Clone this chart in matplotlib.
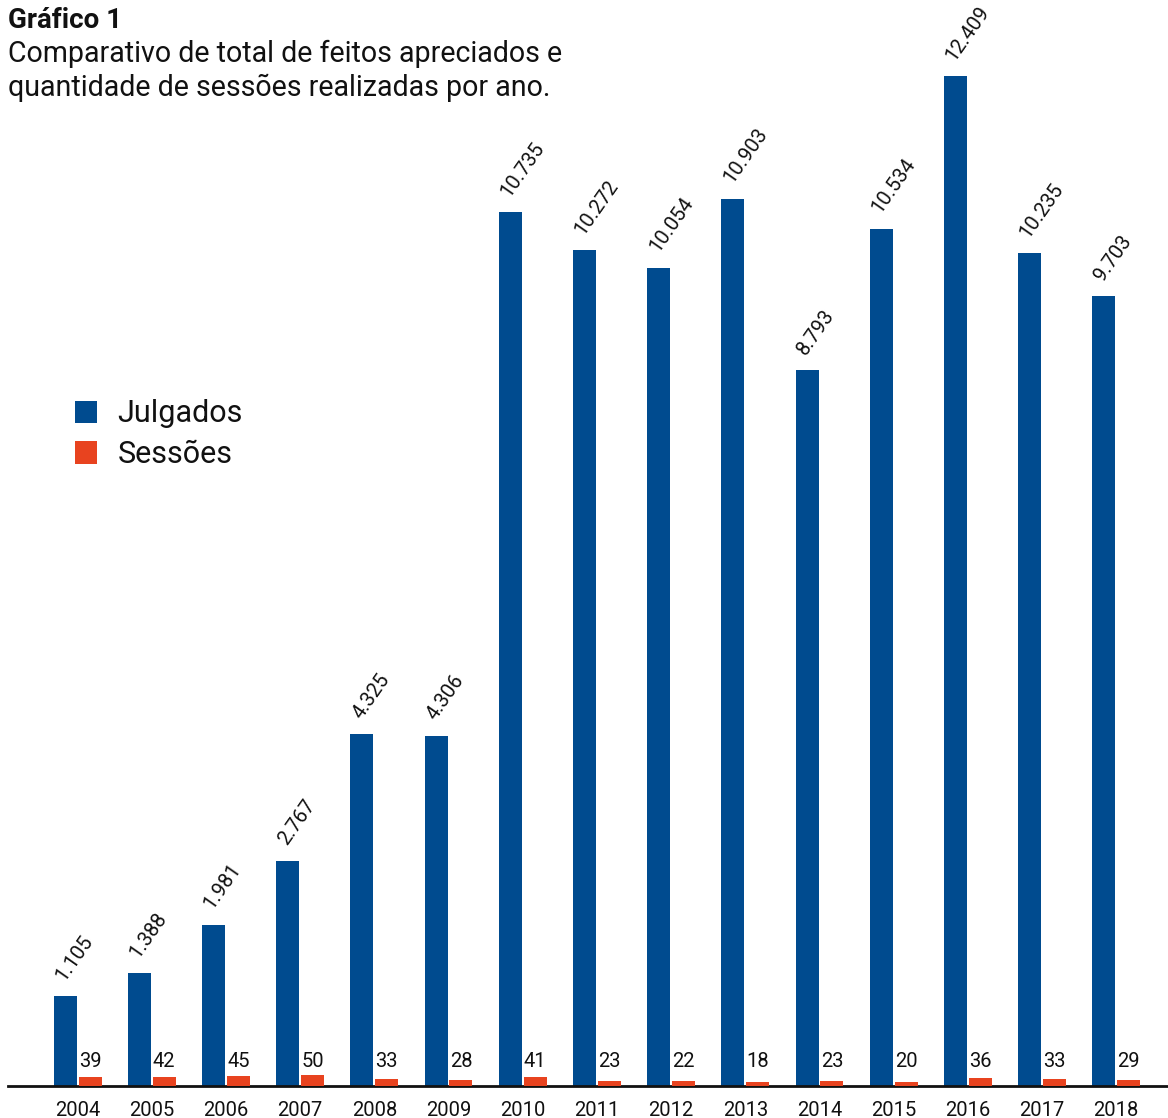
import matplotlib
matplotlib.use("Agg")
import matplotlib.pyplot as plt
import numpy as np
from matplotlib.patches import Patch

plt.rcParams['font.family'] = ['Roboto', 'DejaVu Sans']

years = ["2004", "2005", "2006", "2007", "2008", "2009", "2010", "2011",
         "2012", "2013", "2014", "2015", "2016", "2017", "2018"]
julgados = [1105, 1388, 1981, 2767, 4325, 4306, 10735, 10272,
            10054, 10903, 8793, 10534, 12409, 10235, 9703]
sessoes = [39, 42, 45, 50, 33, 28, 41, 23, 22, 18, 23, 20, 36, 33, 29]

def fmt(v):
    return f"{v:,}".replace(",", ".")

BLUE = "#004b8f"
RED = "#e8431f"
INK = "#111111"

W, H = 1168, 1118
fig = plt.figure(figsize=(W / 100, H / 100), dpi=100)
base_y = 1086
top_y = 76
ax = fig.add_axes([8 / W, (H - base_y) / H, (W - 8) / W, (base_y - top_y) / H])
ax2 = ax.twinx()

x = np.arange(len(years))
bw = 0.31
off = 0.168

ax.bar(x - off, julgados, width=bw, color=BLUE, zorder=2)
ax2.bar(x + off, sessoes, width=bw, color=RED, zorder=2)

ax.set_xlim(-0.938, 14.698)
ax.set_ylim(0, max(julgados))
ax2.set_ylim(0, 4590)

for a in (ax, ax2):
    for s in a.spines.values():
        s.set_visible(False)
    a.set_yticks([])
ax.spines['bottom'].set_visible(True)
ax.spines['bottom'].set_linewidth(2)
ax.spines['bottom'].set_color(INK)
ax.spines['bottom'].set_zorder(5)

ax.set_xticks(x)
ax.set_xticklabels(years, fontsize=14.5, color=INK)
ax.tick_params(axis='x', length=0, pad=11)

for xi, v in zip(x, julgados):
    ax.annotate(fmt(v), (xi - off - bw / 2, v), xytext=(14, 12),
                textcoords='offset pixels', rotation=55,
                rotation_mode='anchor', ha='left', va='bottom',
                fontsize=14.5, color=INK, annotation_clip=False)

for xi, v in zip(x, sessoes):
    ax2.annotate(str(v), (xi + off, 0), xytext=(0, 19),
                 textcoords='offset pixels', ha='center', va='baseline',
                 fontsize=14.5, color=INK, annotation_clip=False)

handles = [Patch(facecolor=BLUE, label="Julgados"),
           Patch(facecolor=RED, label="Sessões")]
fig.legend(handles=handles, loc='upper left',
           bbox_to_anchor=(47 / W, 1 - 372 / H), frameon=False,
           fontsize=22, handlelength=0.75, handleheight=0.75,
           handletextpad=0.65, labelspacing=0.38, labelcolor=INK)

fig.text(8 / W, 1 - 7 / H, "Gráfico 1", fontsize=20, fontweight='bold',
         ha='left', va='top', color=INK)
fig.text(8 / W, 1 - 40 / H,
         "Comparativo de total de feitos apreciados e\nquantidade de sessões realizadas por ano.",
         fontsize=20.6, ha='left', va='top', color=INK, linespacing=1.25)

fig.savefig("out.png", dpi=100)
